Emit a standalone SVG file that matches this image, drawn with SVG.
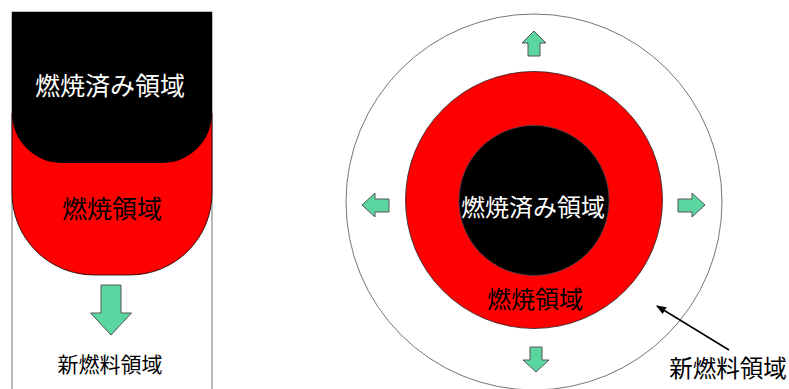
<svg xmlns="http://www.w3.org/2000/svg" width="789" height="389" viewBox="0 0 789 389">
<style>
  .t { font-family: "Noto Sans CJK JP", "Noto Sans CJK SC", sans-serif; text-anchor: middle; dominant-baseline: central; }
  .arr { fill: #5CD6A0; stroke: #555; stroke-width: 1; stroke-linejoin: miter; }
</style>
<defs>
  <marker id="ah" markerWidth="10" markerHeight="8" refX="9" refY="4" orient="auto" markerUnits="userSpaceOnUse">
    <path d="M0,0 L10,4 L0,8 Z" fill="#000"/>
  </marker>
</defs>
<rect width="789" height="389" fill="#fff"/>

<!-- Left panel -->
<g id="left-panel">
  <rect x="12" y="12" width="200" height="390" fill="#fff" stroke="#777" stroke-width="1"/>
</g>
<g id="left-burning">
  <path d="M12,113 V193 A82 82 0 0 0 94 275 H130 A82 82 0 0 0 212 193 V113 Z" fill="#ff0000" stroke="#000" stroke-width="0.8"/>
  <text class="t" x="112" y="207" font-size="25" fill="#000">燃焼領域</text>
</g>
<g id="left-burnt">
  <path d="M12,12 H212 V113 A50 50 0 0 1 162 163 H62 A50 50 0 0 1 12 113 Z" fill="#000"/>
  <text class="t" x="110" y="84" font-size="25" fill="#fff">燃焼済み領域</text>
</g>
<g id="left-arrow">
  <path class="arr" d="M101,285 H121 V313 H131.5 L111,335 L90.5,313 H101 Z"/>
</g>
<g id="left-fresh">
  <text class="t" x="110" y="363" font-size="21" fill="#000">新燃料領域</text>
</g>

<!-- Right panel -->
<g id="outer-circle">
  <circle cx="534" cy="202" r="188" fill="#fff" stroke="#777" stroke-width="1"/>
</g>
<g id="burning-ring">
  <circle cx="534" cy="200" r="128.5" fill="#ff0000" stroke="#222" stroke-width="0.8"/>
  <text class="t" x="535" y="297" font-size="24" fill="#000">燃焼領域</text>
</g>
<g id="burnt-core">
  <circle cx="534" cy="200.5" r="75" fill="#000" stroke="#445" stroke-width="0.8"/>
  <text class="t" x="533" y="205" font-size="24" fill="#fff">燃焼済み領域</text>
</g>
<g id="arrow-up">
  <path class="arr" d="M528,56 H540 V43 H546 L534,31 L522,43 H528 Z"/>
</g>
<g id="arrow-down">
  <path class="arr" d="M530,347 H542 V360 H549 L536,372 L523,360 H530 Z"/>
</g>
<g id="arrow-left">
  <path class="arr" d="M389,199 V212 H375 V217 L362,205 L375,193 V199 Z"/>
</g>
<g id="arrow-right">
  <path class="arr" d="M678,199 V212 H692 V217 L705,205 L692,193 V199 Z"/>
</g>
<g id="fresh-label">
  <text class="t" x="728" y="367" font-size="23.5" fill="#000">新燃料領域</text>
</g>
<g id="connectors">
  <line x1="729" y1="350" x2="657" y2="306" stroke="#000" stroke-width="1.5" marker-end="url(#ah)"/>
</g>
</svg>
